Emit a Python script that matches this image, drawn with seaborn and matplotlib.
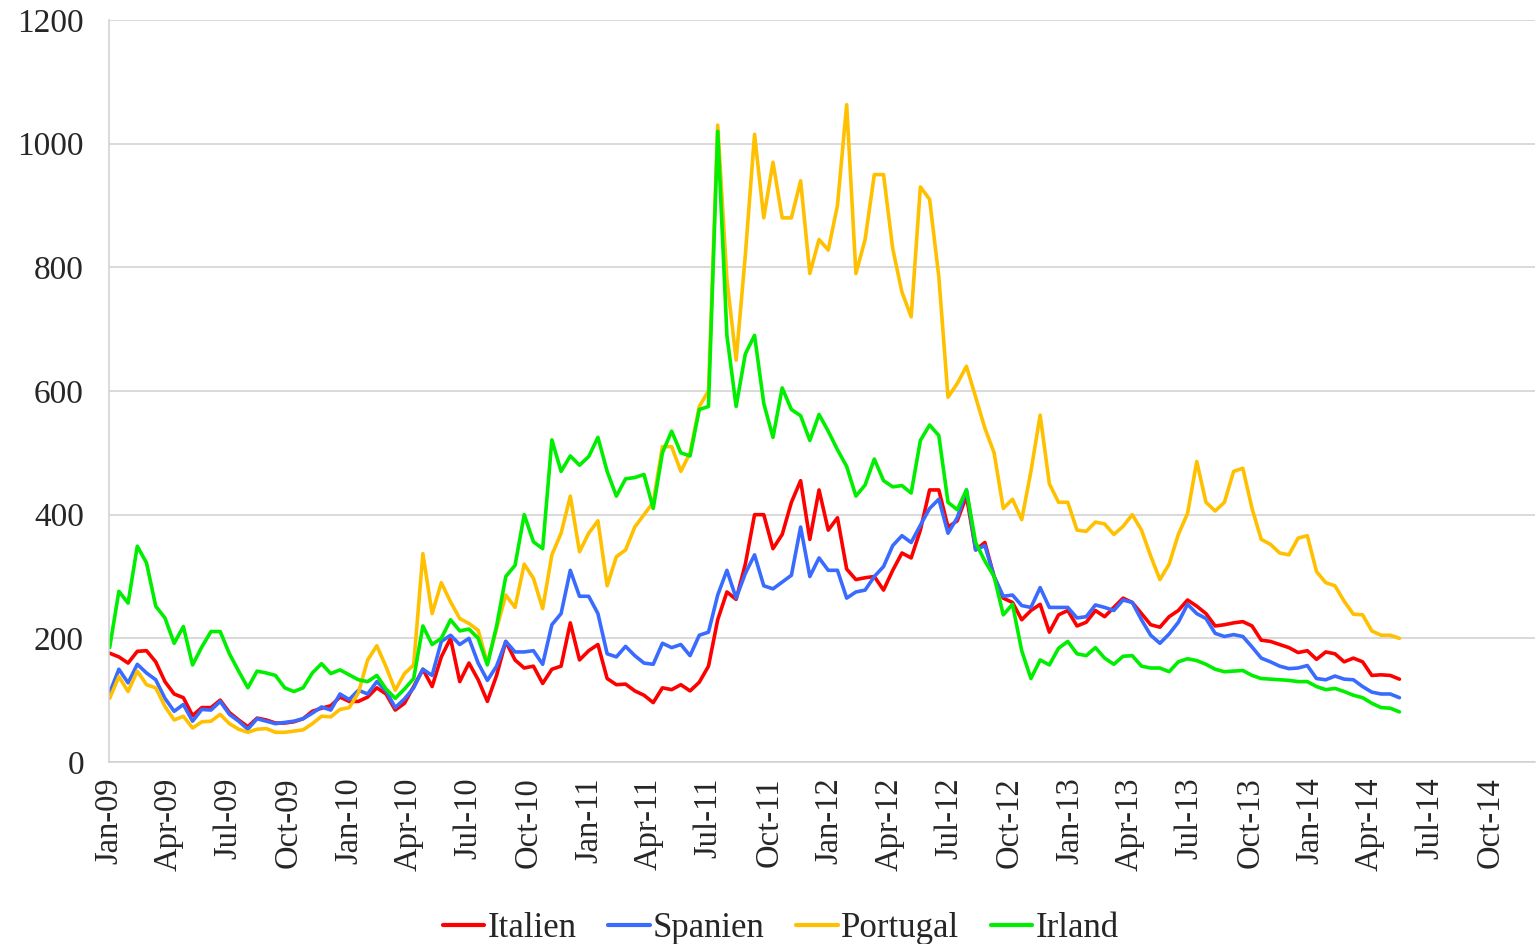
import matplotlib
matplotlib.use("Agg")
import matplotlib.pyplot as plt
import matplotlib.dates as mdates
from matplotlib.lines import Line2D
import numpy as np
import pandas as pd
import seaborn as sns

# ---- data (two-week steps) ----
start_date = "2009-01-02"
step = "14D"

italien = [176, 170, 160, 179, 180, 162, 130, 110, 104, 75, 88, 88, 100, 80, 68,
           57, 71, 68, 63, 63, 65, 70, 82, 87, 91, 105, 98, 98, 105,
           120, 110, 84, 95, 122, 150, 122, 170, 200, 130, 160, 133, 98, 140,
           195, 165, 152, 155, 127, 150, 155, 225, 165, 180, 190, 135, 125, 126,
           115, 108, 96, 120, 117, 125, 115, 129, 155, 230, 275, 263, 320, 400,
           400, 345, 368, 420, 455, 360, 440, 375, 395, 312, 295, 298, 300, 278, 310,
           338, 330, 375, 440, 440, 380, 390, 430, 343, 355, 300, 265, 258, 230,
           245, 255, 210, 238, 245, 220, 226, 245, 235, 250, 265, 258, 240, 222,
           218, 235, 245, 262, 252, 240, 220, 222, 225, 227, 220, 197, 195, 190,
           185, 177, 180, 166, 178, 175, 162, 168, 162, 140, 141, 140, 134]

spanien = [112, 150, 128, 158, 144, 133, 103, 82, 93, 66, 85, 84, 98, 77, 66,
           53, 70, 66, 62, 64, 66, 70, 79, 89, 84, 110, 101, 116, 110,
           130, 115, 88, 102, 120, 150, 140, 195, 205, 190, 200, 160, 132, 155,
           195, 178, 178, 180, 158, 222, 240, 310, 268, 268, 240, 175, 170, 187,
           172, 160, 158, 192, 185, 190, 172, 205, 210, 270, 310, 265, 305, 335,
           285, 280, 291, 302, 380, 300, 330, 310, 310, 265, 275, 278, 300, 316, 350,
           366, 355, 383, 410, 425, 370, 395, 440, 343, 350, 300, 268, 270, 253,
           250, 282, 250, 250, 250, 233, 235, 254, 250, 245, 262, 258, 230, 205,
           192, 207, 226, 255, 240, 232, 208, 203, 206, 203, 186, 168, 162, 155,
           151, 152, 156, 135, 133, 139, 134, 133, 122, 113, 110, 110, 104]

portugal = [103, 138, 114, 147, 125, 120, 90, 68, 74, 55, 65, 66, 77, 62, 53,
            48, 53, 54, 48, 48, 50, 52, 62, 74, 73, 85, 88, 112, 165,
            188, 154, 116, 143, 157, 337, 240, 290, 259, 232, 224, 213, 160, 216,
            270, 250, 320, 297, 248, 335, 370, 430, 340, 370, 390, 285, 332, 343,
            380, 400, 420, 510, 510, 470, 500, 575, 600, 1030, 780, 650, 820, 1015,
            880, 970, 880, 880, 940, 790, 845, 828, 900, 1063, 790, 845, 950, 950, 830,
            760, 720, 930, 910, 785, 590, 612, 640, 590, 540, 500, 410, 425, 392,
            470, 561, 450, 420, 420, 375, 373, 388, 385, 368, 381, 400, 375, 333,
            295, 320, 368, 402, 486, 420, 406, 420, 470, 475, 410, 360, 352, 338,
            335, 362, 366, 308, 290, 285, 260, 239, 238, 212, 205, 205, 200]

irland = [185, 276, 257, 349, 322, 252, 233, 192, 219, 157, 186, 211, 211, 175, 147,
          120, 147, 144, 140, 120, 114, 120, 144, 159, 143, 149, 141, 133, 130,
          140, 118, 103, 118, 135, 220, 190, 200, 230, 212, 215, 200, 157, 220,
          300, 318, 400, 356, 345, 521, 470, 495, 480, 494, 525, 470, 430, 458,
          460, 465, 410, 500, 535, 500, 495, 570, 575, 1020, 690, 575, 660, 690,
          580, 525, 605, 570, 560, 520, 562, 535, 505, 478, 430, 448, 490, 455, 445,
          447, 435, 520, 545, 528, 420, 408, 440, 355, 325, 300, 238, 255, 180,
          135, 165, 157, 184, 195, 175, 172, 185, 168, 158, 171, 172, 155, 152,
          152, 146, 162, 167, 164, 158, 150, 146, 147, 148, 140, 135, 134, 133,
          132, 130, 130, 122, 117, 119, 114, 108, 104, 95, 88, 87, 81]

countries = ["Italien", "Spanien", "Portugal", "Irland"]
colors = ["#ff0000", "#3a6bff", "#ffc000", "#00ee00"]
y_ticks = [0, 200, 400, 600, 800, 1000, 1200]

dates = pd.date_range(start_date, periods=len(italien), freq=step)
wide = pd.DataFrame({"Datum": dates, "Italien": italien, "Spanien": spanien,
                     "Portugal": portugal, "Irland": irland})
long = wide.melt(id_vars="Datum", var_name="Land", value_name="Wert")

# ---- style ----
sns.set_style("white")
plt.rcParams["font.family"] = ["Liberation Serif", "DejaVu Serif"]

fig = plt.figure(figsize=(15.37, 9.44), dpi=100)
ax = fig.add_axes([109 / 1537, 1 - 762 / 944, (1535 - 109) / 1537, (762 - 20) / 944])

sns.lineplot(data=long, x="Datum", y="Wert", hue="Land", hue_order=countries,
             palette=colors, linewidth=2.6, ax=ax, legend=False)

ax.set_ylim(0, 1200)
ax.set_yticks(y_ticks)
ax.set_xlim(pd.Timestamp("2009-01-01"), pd.Timestamp("2014-12-08"))
qticks = pd.date_range("2009-01-01", "2014-10-01", freq="QS")
ax.set_xticks(qticks)
ax.xaxis.set_major_formatter(mdates.DateFormatter("%b-%y"))
ax.set_xlabel("")
ax.set_ylabel("")

grid_c = "#d0d0d0"
ax.grid(axis="y", color=grid_c, linewidth=1.1)
ax.grid(axis="x", visible=False)
ax.set_axisbelow(True)
for s in ["top", "right"]:
    ax.spines[s].set_visible(False)
for s in ["left", "bottom"]:
    ax.spines[s].set_color(grid_c)
    ax.spines[s].set_linewidth(1.1)

ax.tick_params(axis="y", length=8, color=grid_c, width=1.1, pad=10, labelsize=24)
ax.tick_params(axis="x", length=8, color=grid_c, width=1.1, pad=3, labelsize=23.5,
               labelrotation=90)

handles = [Line2D([], [], color=c, linewidth=3.0) for c in colors]
fig.legend(handles, countries, loc="center", bbox_to_anchor=(0.508, 0.016),
           ncol=4, frameon=False, fontsize=25, handlelength=1.2,
           handletextpad=0.1, columnspacing=0.9)

fig.savefig("out.png", dpi=100)
